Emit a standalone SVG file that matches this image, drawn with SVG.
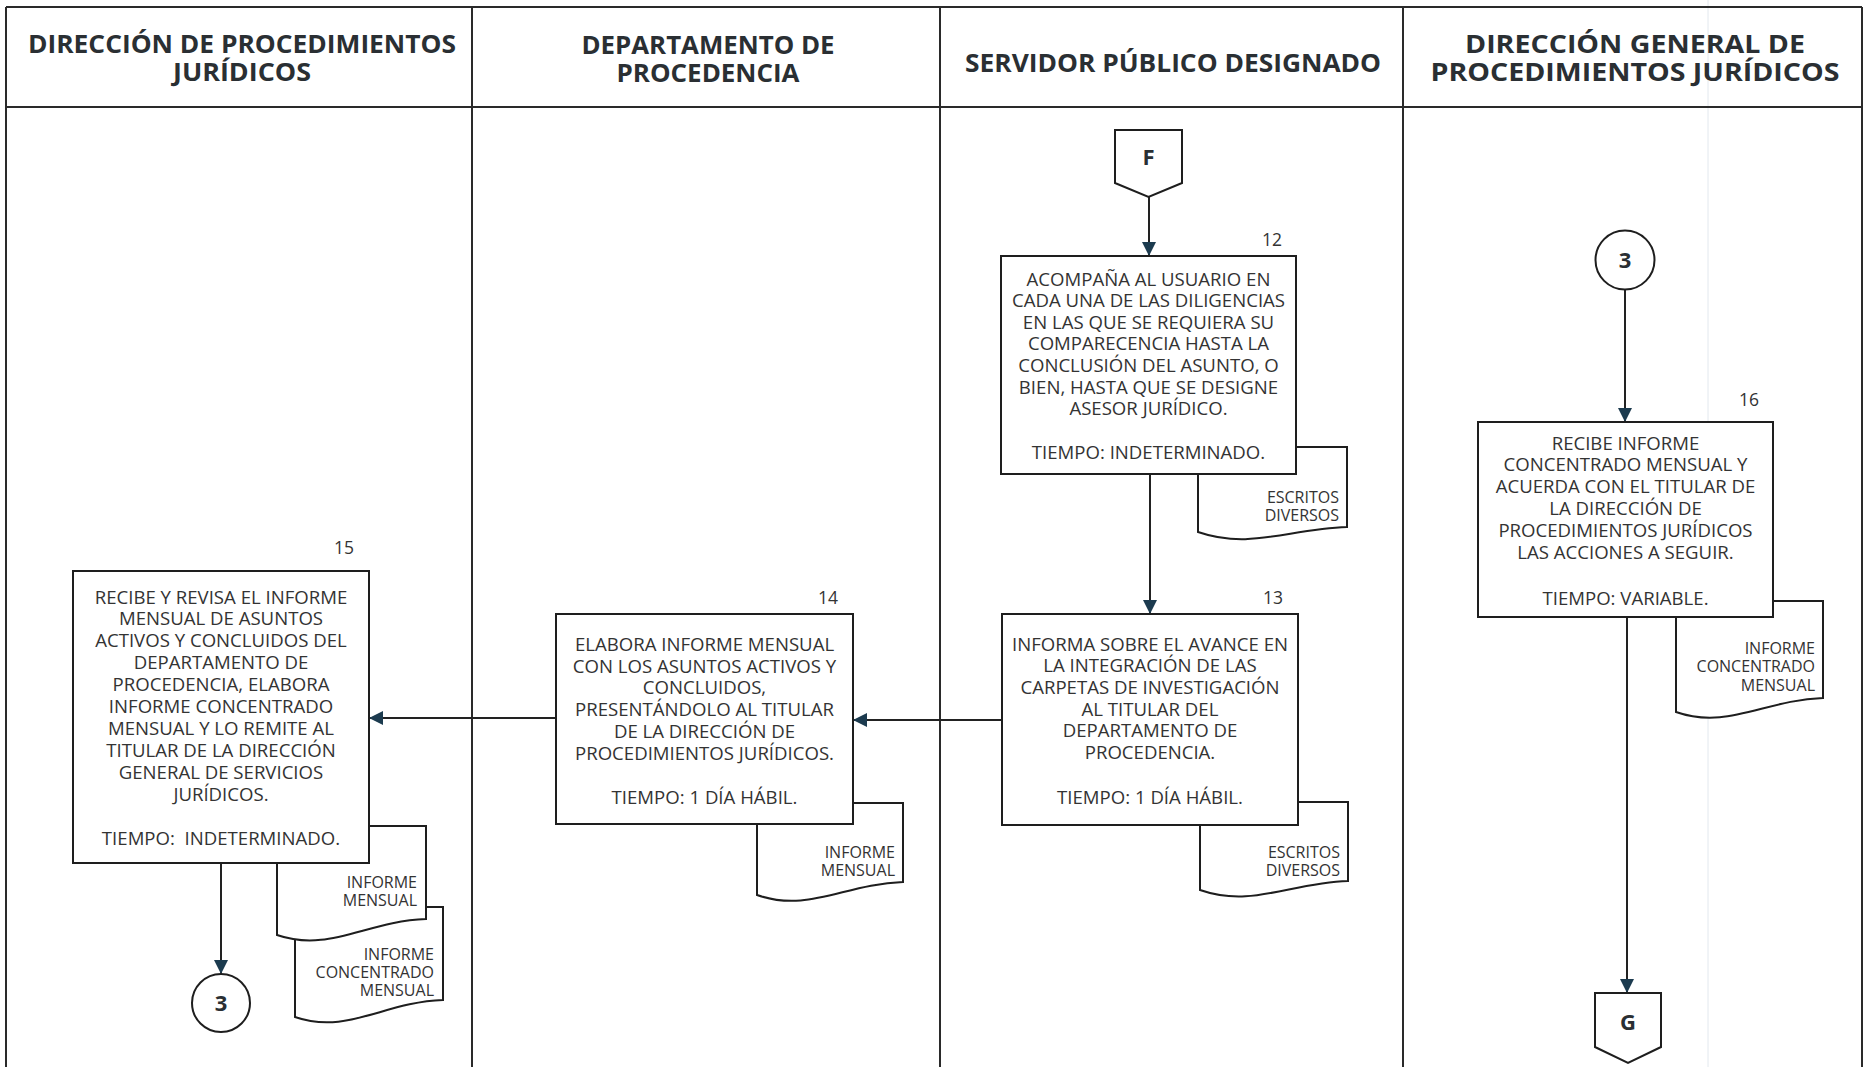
<svg xmlns="http://www.w3.org/2000/svg" width="1865" height="1067" viewBox="0 0 1865 1067">
<style>
.frame{fill:none;stroke:#2a2a2a;stroke-width:2}
.box{fill:#fff;stroke:#1e1e1e;stroke-width:2}
.doc{fill:#fff;stroke:#1e1e1e;stroke-width:2}
.hd{font-family:"Open Sans","Noto Sans","DejaVu Sans",sans-serif;font-weight:700;font-size:25px;fill:#2a2f33;text-anchor:middle}
.tx{font-family:"Open Sans","Noto Sans","DejaVu Sans",sans-serif;font-size:18.6px;fill:#333;text-anchor:middle}
.num{font-family:"Open Sans","Noto Sans","DejaVu Sans",sans-serif;font-size:17.5px;fill:#333;text-anchor:middle}
.dt{font-family:"Open Sans","Noto Sans","DejaVu Sans",sans-serif;font-size:16px;fill:#333;text-anchor:end}
.con{font-family:"Open Sans","Noto Sans","DejaVu Sans",sans-serif;font-weight:700;font-size:22px;fill:#2a2f33;text-anchor:middle}
.edge{fill:none;stroke:#222;stroke-width:2;marker-end:url(#arr)}
</style>
<defs>
<marker id="arr" markerUnits="userSpaceOnUse" markerWidth="16" markerHeight="16" refX="14" refY="7" orient="auto">
<path d="M0,0 L14,7 L0,14 z" fill="#1c3b4f"/>
</marker>
</defs>
<rect x="0" y="0" width="1865" height="1067" fill="#fff"/>
<line x1="1708" y1="0" x2="1708" y2="1067" stroke="#e2e8ee" stroke-width="1"/>
<g id="lanes">
<line class="frame" x1="6" y1="7" x2="1862" y2="7"/>
<line class="frame" x1="6" y1="107" x2="1862" y2="107"/>
<line class="frame" x1="6" y1="7" x2="6" y2="1067"/>
<line class="frame" x1="472" y1="7" x2="472" y2="1067"/>
<line class="frame" x1="940" y1="7" x2="940" y2="1067"/>
<line class="frame" x1="1403" y1="7" x2="1403" y2="1067"/>
<line class="frame" x1="1862" y1="7" x2="1862" y2="1067"/>
<text class="hd" x="242" y="53" textLength="428" lengthAdjust="spacingAndGlyphs">DIRECCIÓN DE PROCEDIMIENTOS</text>
<text class="hd" x="242" y="81" textLength="138" lengthAdjust="spacingAndGlyphs">JURÍDICOS</text>
<text class="hd" x="708" y="54" textLength="253" lengthAdjust="spacingAndGlyphs">DEPARTAMENTO DE</text>
<text class="hd" x="708" y="82" textLength="183" lengthAdjust="spacingAndGlyphs">PROCEDENCIA</text>
<text class="hd" x="1173" y="71.5" textLength="416" lengthAdjust="spacingAndGlyphs">SERVIDOR PÚBLICO DESIGNADO</text>
<text class="hd" x="1635" y="53" textLength="340" lengthAdjust="spacingAndGlyphs">DIRECCIÓN GENERAL DE</text>
<text class="hd" x="1635" y="81" textLength="409" lengthAdjust="spacingAndGlyphs">PROCEDIMIENTOS JURÍDICOS</text>
</g>
<g id="connectors">
<line class="edge" x1="1149" y1="197" x2="1149" y2="256"/>
<line class="edge" x1="1150" y1="474" x2="1150" y2="614"/>
<line class="edge" x1="1002" y1="720" x2="853" y2="720"/>
<line class="edge" x1="556" y1="718" x2="369" y2="718"/>
<line class="edge" x1="221" y1="863" x2="221" y2="974"/>
<line class="edge" x1="1625" y1="290" x2="1625" y2="422"/>
<line class="edge" x1="1627" y1="617" x2="1627" y2="993"/>
</g>
<g id="F">
<path class="box" d="M1115,130 H1182 V183 L1148.5,197 L1115,183 Z"/>
<text class="con" x="1148.5" y="164.5">F</text>
</g>
<g id="doc12">
<path class="doc" d="M1198,447 H1347 V527 C1287.4,529 1250.2,550 1198,532 Z"/>
<text class="dt" x="1339" y="502.5">ESCRITOS</text>
<text class="dt" x="1339" y="520.5">DIVERSOS</text>
</g>
<g id="n12">
<rect class="box" x="1001" y="256" width="295" height="218"/>
<text class="num" x="1272" y="246">12</text>
<text class="tx" x="1148.5" y="285.5">ACOMPAÑA AL USUARIO EN</text>
<text class="tx" x="1148.5" y="307.1">CADA UNA DE LAS DILIGENCIAS</text>
<text class="tx" x="1148.5" y="328.7">EN LAS QUE SE REQUIERA SU</text>
<text class="tx" x="1148.5" y="350.3">COMPARECENCIA HASTA LA</text>
<text class="tx" x="1148.5" y="371.9">CONCLUSIÓN DEL ASUNTO, O</text>
<text class="tx" x="1148.5" y="393.5">BIEN, HASTA QUE SE DESIGNE</text>
<text class="tx" x="1148.5" y="415.1">ASESOR JURÍDICO.</text>
<text class="tx" x="1148.5" y="459">TIEMPO: INDETERMINADO.</text>
</g>
<g id="doc13">
<path class="doc" d="M1200,802 H1348 V881 C1288.8,883 1251.8,908 1200,890 Z"/>
<text class="dt" x="1340" y="857.5">ESCRITOS</text>
<text class="dt" x="1340" y="875.5">DIVERSOS</text>
</g>
<g id="n13">
<rect class="box" x="1002" y="614" width="296" height="211"/>
<text class="num" x="1273" y="604">13</text>
<text class="tx" x="1150" y="650.5">INFORMA SOBRE EL AVANCE EN</text>
<text class="tx" x="1150" y="672.2">LA INTEGRACIÓN DE LAS</text>
<text class="tx" x="1150" y="693.9">CARPETAS DE INVESTIGACIÓN</text>
<text class="tx" x="1150" y="715.6">AL TITULAR DEL</text>
<text class="tx" x="1150" y="737.3">DEPARTAMENTO DE</text>
<text class="tx" x="1150" y="759">PROCEDENCIA.</text>
<text class="tx" x="1150" y="803.5">TIEMPO: 1 DÍA HÁBIL.</text>
</g>
<g id="doc14">
<path class="doc" d="M757,803 H903 V882 C844.6,884 808.1,913 757,895 Z"/>
<text class="dt" x="895" y="857.5">INFORME</text>
<text class="dt" x="895" y="875.5">MENSUAL</text>
</g>
<g id="n14">
<rect class="box" x="556" y="614" width="297" height="210"/>
<text class="num" x="828" y="604">14</text>
<text class="tx" x="704.5" y="651">ELABORA INFORME MENSUAL</text>
<text class="tx" x="704.5" y="672.7">CON LOS ASUNTOS ACTIVOS Y</text>
<text class="tx" x="704.5" y="694.4">CONCLUIDOS,</text>
<text class="tx" x="704.5" y="716.1">PRESENTÁNDOLO AL TITULAR</text>
<text class="tx" x="704.5" y="737.8">DE LA DIRECCIÓN DE</text>
<text class="tx" x="704.5" y="759.5">PROCEDIMIENTOS JURÍDICOS.</text>
<text class="tx" x="704.5" y="804">TIEMPO: 1 DÍA HÁBIL.</text>
</g>
<g id="doc15b">
<path class="doc" d="M295,907 H443 V1000 C383.8,1002 346.8,1035 295,1017 Z"/>
<text class="dt" x="434" y="959.5">INFORME</text>
<text class="dt" x="434" y="977.5">CONCENTRADO</text>
<text class="dt" x="434" y="996">MENSUAL</text>
</g>
<g id="doc15a">
<path class="doc" d="M277,826 H426 V919 C366.4,921 329.2,953 277,935 Z"/>
<text class="dt" x="417" y="887.5">INFORME</text>
<text class="dt" x="417" y="905.5">MENSUAL</text>
</g>
<g id="n15">
<rect class="box" x="73" y="571" width="296" height="292"/>
<text class="num" x="344" y="554">15</text>
<text class="tx" x="221" y="603.5">RECIBE Y REVISA EL INFORME</text>
<text class="tx" x="221" y="625.4">MENSUAL DE ASUNTOS</text>
<text class="tx" x="221" y="647.3">ACTIVOS Y CONCLUIDOS DEL</text>
<text class="tx" x="221" y="669.2">DEPARTAMENTO DE</text>
<text class="tx" x="221" y="691.1">PROCEDENCIA, ELABORA</text>
<text class="tx" x="221" y="713">INFORME CONCENTRADO</text>
<text class="tx" x="221" y="734.9">MENSUAL Y LO REMITE AL</text>
<text class="tx" x="221" y="756.8">TITULAR DE LA DIRECCIÓN</text>
<text class="tx" x="221" y="778.7">GENERAL DE SERVICIOS</text>
<text class="tx" x="221" y="800.6">JURÍDICOS.</text>
<text class="tx" x="221" y="845">TIEMPO:&#160; INDETERMINADO.</text>
</g>
<g id="c3a">
<circle class="box" cx="221" cy="1003" r="29"/>
<text class="con" x="221" y="1011">3</text>
</g>
<g id="c3b">
<circle class="box" cx="1625" cy="260" r="29.5"/>
<text class="con" x="1625" y="268">3</text>
</g>
<g id="doc16">
<path class="doc" d="M1676,601 H1823 V698 C1764.2,700 1727.5,730 1676,712 Z"/>
<text class="dt" x="1815" y="653.5">INFORME</text>
<text class="dt" x="1815" y="672">CONCENTRADO</text>
<text class="dt" x="1815" y="690.5">MENSUAL</text>
</g>
<g id="n16">
<rect class="box" x="1478" y="422" width="295" height="195"/>
<text class="num" x="1749" y="406">16</text>
<text class="tx" x="1625.5" y="449.5">RECIBE INFORME</text>
<text class="tx" x="1625.5" y="471.3">CONCENTRADO MENSUAL Y</text>
<text class="tx" x="1625.5" y="493.1">ACUERDA CON EL TITULAR DE</text>
<text class="tx" x="1625.5" y="514.9">LA DIRECCIÓN DE</text>
<text class="tx" x="1625.5" y="536.7">PROCEDIMIENTOS JURÍDICOS</text>
<text class="tx" x="1625.5" y="558.5">LAS ACCIONES A SEGUIR.</text>
<text class="tx" x="1625.5" y="604.5">TIEMPO: VARIABLE.</text>
</g>
<g id="G">
<path class="box" d="M1595,993 H1661 V1047 L1628,1063 L1595,1047 Z"/>
<text class="con" x="1628" y="1030">G</text>
</g>
</svg>
